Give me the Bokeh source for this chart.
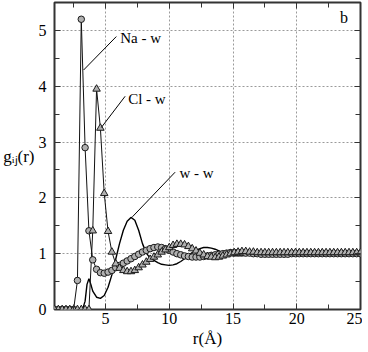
from bokeh.plotting import figure
from bokeh.models import (LinearAxis, SingleIntervalTicker, Label, CustomJSTickFormatter)
from bokeh.embed import file_html
from bokeh.resources import INLINE

# ---- data ----
r_grid = [round(1.0 + 0.3 * i, 1) for i in range(81)]

na_w = [0, 0, 0, 0, 0, 0, 0.52, 5.2, 2.9, 1.41, 0.89, 0.72, 0.66, 0.65, 0.67, 0.70,
        0.75, 0.79, 0.83, 0.87, 0.91, 0.95, 0.99, 1.03, 1.06, 1.09, 1.11, 1.12, 1.11, 1.09,
        1.06, 1.03, 1.00, 0.98, 0.96, 0.95, 0.94, 0.94, 0.94, 0.95, 0.96, 0.97, 0.98, 0.99,
        1.00, 1.01, 1.02, 1.02, 1.02, 1.02, 1.01, 1.01, 1.00, 1.00, 0.99, 0.99, 0.99, 0.99,
        0.99, 0.99, 0.99, 0.99, 1.00, 1.00, 1.00, 1.00, 1.00, 1.00, 1.00, 1.00, 1.00, 1.00,
        1.00, 1.00, 1.00, 1.00, 1.00, 1.00, 1.00, 1.00, 1.00]

cl_w = [0, 0, 0, 0, 0, 0, 0, 0, 0, 0, 1.41, 3.95, 3.25, 2.08, 1.40, 1.03, 0.82, 0.74,
        0.70, 0.68, 0.68, 0.70, 0.75, 0.80, 0.85, 0.90, 0.94, 0.98, 1.03, 1.07, 1.11, 1.15,
        1.17, 1.17, 1.16, 1.13, 1.09, 1.05, 1.01, 0.98, 0.95, 0.94, 0.93, 0.94, 0.96, 0.98,
        1.00, 1.02, 1.03, 1.04, 1.04, 1.03, 1.03, 1.02, 1.02, 1.02, 1.02, 1.02, 1.02, 1.02,
        1.02, 1.02, 1.02, 1.02, 1.02, 1.02, 1.02, 1.02, 1.02, 1.02, 1.02, 1.02, 1.02, 1.02,
        1.02, 1.02, 1.02, 1.02, 1.02, 1.02, 1.02]

ww_r = [1.0, 3.2, 3.4, 3.55, 3.7, 3.85, 4.0, 4.3, 4.6, 4.9, 5.2, 5.5, 5.8, 6.1, 6.4, 6.7,
        7.0, 7.3, 7.6, 7.9, 8.2, 8.5, 8.8, 9.1, 9.4, 9.7, 10.0, 10.3, 10.6, 10.9, 11.2,
        11.5, 11.8, 12.1, 12.4, 12.7, 13.0, 13.3, 13.6, 13.9, 14.2, 14.5, 14.8, 15.1, 15.4,
        15.7, 16.0, 16.3, 16.6, 17.0, 18.0, 19.0, 20.0, 22.0, 25.0]
ww_g = [0, 0, 0.15, 0.45, 0.55, 0.45, 0.33, 0.22, 0.20, 0.25, 0.40, 0.62, 0.90, 1.18,
        1.42, 1.58, 1.65, 1.60, 1.42, 1.18, 1.01, 0.92, 0.88, 0.84, 0.81, 0.80, 0.79, 0.80,
        0.82, 0.86, 0.91, 0.97, 1.02, 1.06, 1.09, 1.11, 1.11, 1.10, 1.08, 1.05, 1.02, 0.99,
        0.97, 0.96, 0.96, 0.96, 0.97, 0.98, 0.99, 1.00, 1.01, 1.01, 1.00, 1.00, 1.00]

x_ticks_interval = 5
y_ticks_interval = 1

# annotation texts
labels = ["Na - w", "Cl - w", "w - w"]
label_x = [6.16, 6.78, 10.8]
label_y = [4.86, 3.78, 2.44]
lead_x0 = [5.85, 6.54, 10.46]
lead_y0 = [4.89, 3.82, 2.46]
lead_x1 = [3.28, 4.67, 7.11]
lead_y1 = [4.29, 3.26, 1.66]

SERIF = "Liberation Serif"

p = figure(width=362, height=350, x_range=(1, 25), y_range=(0, 5.5),
           output_backend="svg", toolbar_location=None,
           min_border_left=49, min_border_right=2, min_border_top=2,
           min_border_bottom=38)
p.background_fill_color = "white"
p.border_fill_color = "white"
p.outline_line_color = "#333333"
p.outline_line_width = 2

def style_axis(ax, show_labels):
    ax.major_tick_in = 6
    ax.major_tick_out = 0
    ax.minor_tick_in = 5
    ax.minor_tick_out = 0
    ax.axis_line_color = None
    ax.major_tick_line_color = "#333333"
    ax.minor_tick_line_color = "#333333"
    ax.major_tick_line_width = 1
    ax.minor_tick_line_width = 1
    ax.major_label_text_font = SERIF
    ax.major_label_text_color = "black"
    ax.major_label_text_font_size = "16px"
    if not show_labels:
        ax.formatter = CustomJSTickFormatter(code="return ''")
        ax.major_label_standoff = 0

xt = SingleIntervalTicker(interval=x_ticks_interval, num_minor_ticks=2)
yt = SingleIntervalTicker(interval=y_ticks_interval, num_minor_ticks=2)

p.xaxis.ticker = xt
p.yaxis.ticker = yt
style_axis(p.xaxis[0], True)
style_axis(p.yaxis[0], True)
p.xaxis.major_label_standoff = 3
p.yaxis.major_label_standoff = 8
p.xaxis.axis_label = "r(Å)"
p.xaxis.axis_label_text_font = SERIF
p.xaxis.axis_label_text_font_style = "normal"
p.xaxis.axis_label_text_font_size = "17px"
p.xaxis.axis_label_text_color = "black"
p.xaxis.axis_label_standoff = 2

p.yaxis.axis_label = "gᵢⱼ(r)"
p.yaxis.axis_label_orientation = "horizontal"
p.yaxis.axis_label_text_font = SERIF
p.yaxis.axis_label_text_font_style = "normal"
p.yaxis.axis_label_text_font_size = "17px"
p.yaxis.axis_label_text_color = "black"
p.yaxis.axis_label_standoff = 1

top = LinearAxis(ticker=SingleIntervalTicker(interval=x_ticks_interval, num_minor_ticks=2))
right = LinearAxis(ticker=SingleIntervalTicker(interval=y_ticks_interval, num_minor_ticks=2))
style_axis(top, False)
style_axis(right, False)
p.add_layout(top, "above")
p.add_layout(right, "right")

for g in (p.xgrid[0], p.ygrid[0]):
    g.grid_line_color = "#9a9a9a"
    g.grid_line_dash = "2 2"
    g.grid_line_width = 1
p.xgrid.ticker = SingleIntervalTicker(interval=x_ticks_interval)
p.ygrid.ticker = SingleIntervalTicker(interval=y_ticks_interval)

# curves
p.line(ww_r, ww_g, line_color="black", line_width=1.4)
p.line(r_grid, cl_w, line_color="#111111", line_width=1)
p.line(r_grid, na_w, line_color="#111111", line_width=1)
p.scatter(r_grid, na_w, marker="circle", size=6.5, fill_color="#b0b0b0",
          line_color="#1a1a1a", line_width=1)
p.scatter(r_grid, cl_w, marker="triangle", size=7.5, fill_color="#b0b0b0",
          line_color="#1a1a1a", line_width=1)

# leader lines & labels
p.segment(lead_x0, lead_y0, lead_x1, lead_y1, line_color="black", line_width=1)
for t, x, y in zip(labels, label_x, label_y):
    p.add_layout(Label(x=x, y=y, text=t, text_font=SERIF, text_font_size="15px",
                       text_baseline="middle", text_align="left", text_color="black"))
p.add_layout(Label(x=23.4, y=5.23, text="b", text_font=SERIF, text_font_size="16px",
                   text_baseline="middle", text_align="left", text_color="black"))

open("out.html", "w").write(file_html(p, INLINE))
